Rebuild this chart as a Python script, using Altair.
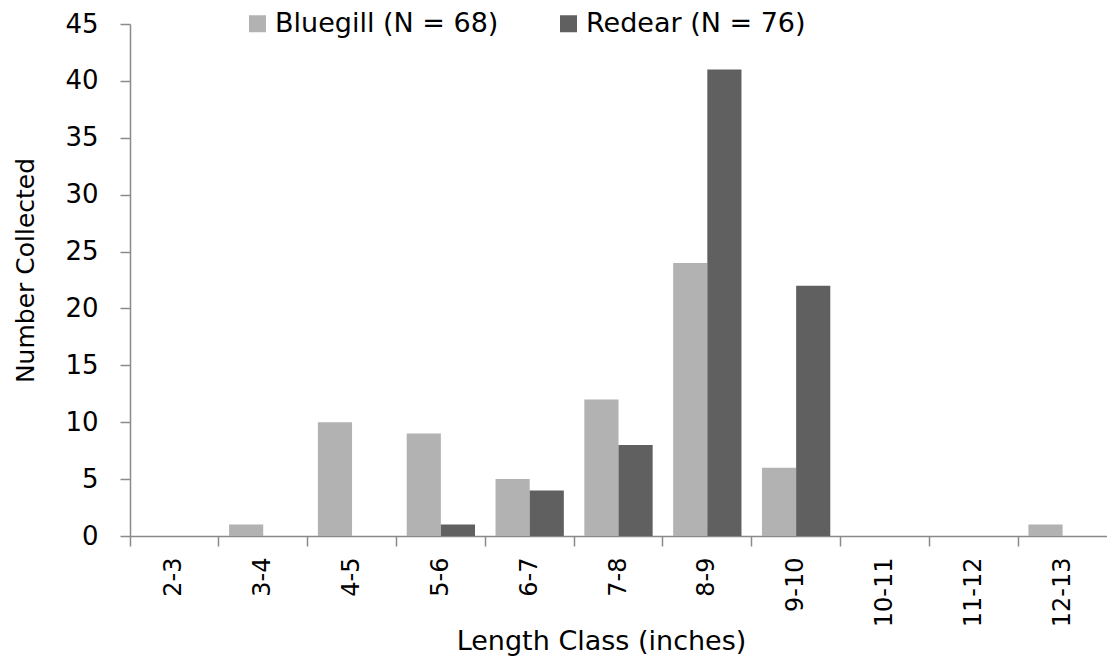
import altair as alt
import pandas as pd

classes = ["2-3", "3-4", "4-5", "5-6", "6-7", "7-8", "8-9", "9-10", "10-11", "11-12", "12-13"]
bluegill = [0, 1, 10, 9, 5, 12, 24, 6, 0, 0, 1]
redear = [0, 0, 0, 1, 4, 8, 41, 22, 0, 0, 0]
species = ["Bluegill (N = 68)", "Redear (N = 76)"]
colors = ["#b2b2b2", "#606060"]
y_ticks = [0, 5, 10, 15, 20, 25, 30, 35, 40, 45]

rows = []
for c, b, r in zip(classes, bluegill, redear):
    rows.append({"cls": c, "species": species[0], "count": b})
    rows.append({"cls": c, "species": species[1], "count": r})
df = pd.DataFrame(rows)

FONT = "DejaVu Sans"
AX = "#8a8a8a"
W = 977
H = 512

chart = alt.Chart(df).mark_bar().encode(
    x=alt.X(
        "cls:N",
        sort=classes,
        scale=alt.Scale(paddingInner=0, paddingOuter=0),
        axis=alt.Axis(
            title="Length Class (inches)",
            labelAngle=-90,
            bandPosition=0,
            tickSize=10,
            labelPadding=11,
            labelFontSize=24,
            labelFont=FONT,
            labelColor="#000000",
            domainColor=AX,
            tickColor=AX,
            domainWidth=1.5,
            tickWidth=1.5,
            grid=False,
            titleFont=FONT,
            titleFontSize=27,
            titleFontWeight="normal",
            titleColor="#000000",
            titleX=471,
            titleY=113,
            titleAlign="center",
            titleBaseline="alphabetic",
        ),
    ),
    xOffset=alt.XOffset(
        "species:N",
        sort=species,
        scale=alt.Scale(domain=species, paddingInner=0, paddingOuter=0.3),
    ),
    y=alt.Y(
        "count:Q",
        scale=alt.Scale(domain=[0, 45], nice=False),
        axis=alt.Axis(
            title="Number Collected",
            values=y_ticks,
            tickSize=10,
            labelPadding=22,
            labelFontSize=26,
            labelFont=FONT,
            labelColor="#000000",
            domainColor=AX,
            tickColor=AX,
            domainWidth=1.5,
            tickWidth=1.5,
            grid=False,
            titleFont=FONT,
            titleFontSize=25,
            titleFontWeight="normal",
            titleColor="#000000",
            titleX=-97,
            titleY=246,
            titleAlign="center",
            titleBaseline="alphabetic",
        ),
    ),
    color=alt.Color(
        "species:N",
        sort=species,
        scale=alt.Scale(domain=species, range=colors),
        legend=alt.Legend(
            title=None,
            orient="none",
            direction="horizontal",
            legendX=114,
            legendY=-14,
            padding=0,
            symbolType="square",
            symbolSize=289,
            symbolStrokeWidth=0,
            labelFont=FONT,
            labelFontSize=27,
            labelColor="#000000",
            labelOffset=4,
            labelLimit=400,
            columnPadding=56,
        ),
    ),
).properties(
    width=W,
    height=H,
    padding={"left": 122, "top": 16, "right": 0, "bottom": 120},
    autosize=alt.AutoSizeParams(type="none"),
).configure_view(stroke=None)

chart.save("out.html", embed_options={"renderer": "svg", "actions": False})
